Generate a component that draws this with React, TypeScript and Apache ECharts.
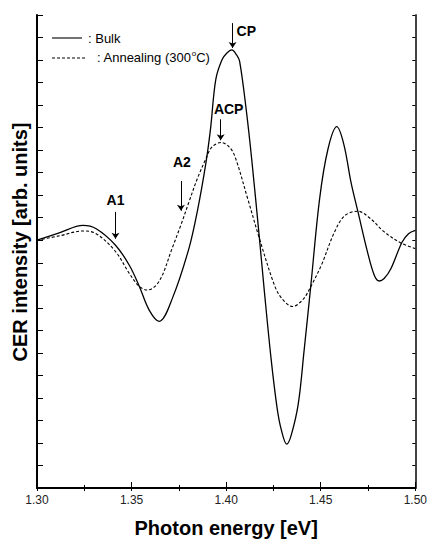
import React, { useEffect, useRef } from 'react';
import * as echarts from 'echarts';

// Photon energy [eV] and CER intensity [arb. units]
const bulkEnergy = [
  1.3, 1.3121, 1.3243, 1.3313, 1.3415, 1.3488, 1.3541, 1.3593, 1.3646, 1.3716,
  1.3803, 1.3847, 1.3892, 1.3917, 1.3945, 1.3978, 1.4004, 1.403, 1.4055, 1.4071,
  1.4106, 1.4135, 1.4176, 1.4202, 1.4237, 1.4269, 1.4291, 1.432, 1.4344, 1.4381,
  1.4412, 1.4447, 1.4494, 1.4538, 1.4585, 1.4622, 1.466, 1.4696, 1.4748, 1.4783,
  1.4809, 1.4835, 1.487, 1.4929, 1.4964, 1.5,
];
const bulkCER = [
  11.0, 11.34, 11.66, 11.51, 10.78, 9.89, 8.95, 7.9, 7.4, 8.43,
  10.63, 12.26, 14.38, 15.92, 18.13, 19.01, 19.31, 19.45, 19.23, 18.95,
  16.8, 14.6, 11.07, 8.73, 5.78, 3.57, 2.6, 1.95, 2.35, 3.72,
  6.1, 8.94, 12.84, 15.04, 16.04, 15.26, 13.57, 12.29, 10.45, 9.45,
  9.19, 9.3, 9.72, 10.9, 11.29, 11.44,
];
const annealEnergy = [
  1.3, 1.3121, 1.3243, 1.3313, 1.3415, 1.3488, 1.3541, 1.3584, 1.3646, 1.3716,
  1.376, 1.3803, 1.3847, 1.3892, 1.3924, 1.3973, 1.4013, 1.4045, 1.4114, 1.4176,
  1.4255, 1.4293, 1.4351, 1.4407, 1.4447, 1.4503, 1.4573, 1.4627, 1.4696, 1.4764,
  1.4836, 1.4923, 1.5,
];
const annealCER = [
  11.0, 11.2, 11.41, 11.29, 10.5, 9.53, 8.95, 8.79, 9.18, 10.68,
  11.66, 12.69, 13.72, 14.6, 15.13, 15.34, 15.17, 14.75, 12.84, 11.07,
  9.01, 8.43, 8.06, 8.38, 8.94, 9.89, 11.37, 12.09, 12.29, 11.95,
  11.37, 10.88, 10.63,
];
const seriesNames = ['Bulk', 'Annealing (300°C)'];

// Arrow annotations
const markerNames = ['CP', 'ACP', 'A2', 'A1'];
const markerEnergy = [1.4034, 1.3971, 1.3761, 1.3415];
const markerTop = [20.64, 16.37, 13.63, 12.26];
const markerBottom = [19.54, 15.44, 12.31, 11.07];

const FONT = '"Liberation Sans", Arial, Helvetica, sans-serif';

export default function App() {
  const ref = useRef<HTMLDivElement>(null);

  useEffect(() => {
    document.body.style.margin = '0';
    const chart = echarts.init(ref.current!, null, { renderer: 'svg' });

    const bulkData = bulkEnergy.map((e, i) => [e, bulkCER[i]]);
    const annealData = annealEnergy.map((e, i) => [e, annealCER[i]]);
    const arrowLines = markerNames.map((n, i) => [
      { coord: [markerEnergy[i], markerTop[i]], name: n },
      { coord: [markerEnergy[i], markerBottom[i]] },
    ]);

    chart.setOption({
      animation: false,
      backgroundColor: '#fff',
      grid: { left: 37, right: 12, top: 15, bottom: 52 },
      xAxis: [
        {
          type: 'value',
          min: 1.3,
          max: 1.5,
          interval: 0.05,
          position: 'bottom',
          axisLine: { show: true, lineStyle: { color: '#000', width: 2 } },
          axisTick: { show: true, inside: true, length: 6, lineStyle: { color: '#000', width: 1 } },
          minorTick: { show: true, splitNumber: 2, length: 3, lineStyle: { color: '#000', width: 1 } },
          axisLabel: {
            formatter: (v: number) => v.toFixed(2),
            fontSize: 12,
            color: '#222',
            margin: 6,
            fontFamily: FONT,
          },
          splitLine: { show: false },
          name: 'Photon energy [eV]',
          nameLocation: 'middle',
          nameGap: 30,
          nameTextStyle: { fontSize: 20, fontWeight: 'bold', color: '#000', fontFamily: FONT },
        },
        {
          type: 'value',
          min: 1.3,
          max: 1.5,
          interval: 0.025,
          position: 'top',
          axisLine: { show: true, lineStyle: { color: '#000', width: 1.5 } },
          axisTick: { show: true, inside: true, length: 3, lineStyle: { color: '#000', width: 1 } },
          axisLabel: { show: false },
          splitLine: { show: false },
        },
      ],
      yAxis: [
        {
          type: 'value',
          min: 0,
          max: 21,
          interval: 1,
          position: 'left',
          axisLine: { show: true, lineStyle: { color: '#000', width: 2 } },
          axisTick: { show: true, inside: true, length: 6, lineStyle: { color: '#000', width: 1 } },
          axisLabel: { show: false },
          splitLine: { show: false },
        },
        {
          type: 'value',
          min: 0,
          max: 21,
          interval: 1,
          position: 'right',
          axisLine: { show: true, lineStyle: { color: '#444', width: 2 } },
          axisTick: { show: true, inside: true, length: 3, lineStyle: { color: '#000', width: 1 } },
          axisLabel: { show: false },
          splitLine: { show: false },
        },
      ],
      series: [
        {
          name: seriesNames[0],
          type: 'line',
          data: bulkData,
          smooth: 0.35,
          symbol: 'none',
          lineStyle: { color: '#000', width: 1.3 },
          markLine: {
            silent: true,
            symbol: ['none', 'arrow'],
            symbolSize: 6,
            label: { show: false },
            lineStyle: { color: '#000', width: 1, type: 'solid' },
            itemStyle: { color: '#000' },
            data: arrowLines,
          },
          z: 3,
        },
        {
          name: seriesNames[1],
          type: 'line',
          data: annealData,
          smooth: 0.35,
          symbol: 'none',
          lineStyle: { color: '#000', width: 1.1, type: [3, 2] },
          z: 2,
        },
      ],
    });

    // Marker labels placed relative to the arrow tops
    const labelOffset = [
      [4, 8, 'left'],
      [8, -10, 'center'],
      [1, -19, 'center'],
      [0, -12, 'center'],
    ];
    const markerLabels = markerNames.map((n, i) => {
      const p = chart.convertToPixel({ xAxisIndex: 0, yAxisIndex: 0 }, [markerEnergy[i], markerTop[i]]) as number[];
      const [dx, dy, align] = labelOffset[i] as [number, number, string];
      return {
        type: 'text',
        x: p[0] + dx,
        y: p[1] + dy,
        style: {
          text: n,
          font: `bold 14px ${FONT}`,
          fill: '#000',
          align,
          verticalAlign: 'middle',
        },
      };
    });

    chart.setOption({
      graphic: [
        {
          type: 'text',
          x: 20,
          y: 242,
          rotation: Math.PI / 2,
          style: {
            text: 'CER intensity [arb. units]',
            font: `bold 20px ${FONT}`,
            fill: '#000',
            align: 'center',
            verticalAlign: 'middle',
          },
        },
        { type: 'line', shape: { x1: 52, y1: 38, x2: 82, y2: 38 }, style: { stroke: '#000', lineWidth: 1.1 } },
        {
          type: 'text',
          x: 88,
          y: 38,
          style: { text: ': ' + seriesNames[0], font: `13px ${FONT}`, fill: '#000', verticalAlign: 'middle' },
        },
        {
          type: 'line',
          shape: { x1: 52, y1: 58, x2: 87, y2: 58 },
          style: { stroke: '#000', lineWidth: 1, lineDash: [3, 2] },
        },
        {
          type: 'text',
          x: 97,
          y: 57,
          style: {
            text: '{n|: Annealing (300}{s|o}{n|C)}',
            verticalAlign: 'middle',
            rich: {
              n: { fontSize: 13, fontFamily: FONT, fill: '#000', color: '#000', lineHeight: 16 },
              s: { fontSize: 8, fontFamily: FONT, fill: '#000', color: '#000', verticalAlign: 'top', lineHeight: 16, padding: [0, 0, 8, 0] },
            },
          },
        },
        ...markerLabels,
      ],
    });

    return () => chart.dispose();
  }, []);

  return <div ref={ref} style={{ width: 430, height: 543 }} />;
}
